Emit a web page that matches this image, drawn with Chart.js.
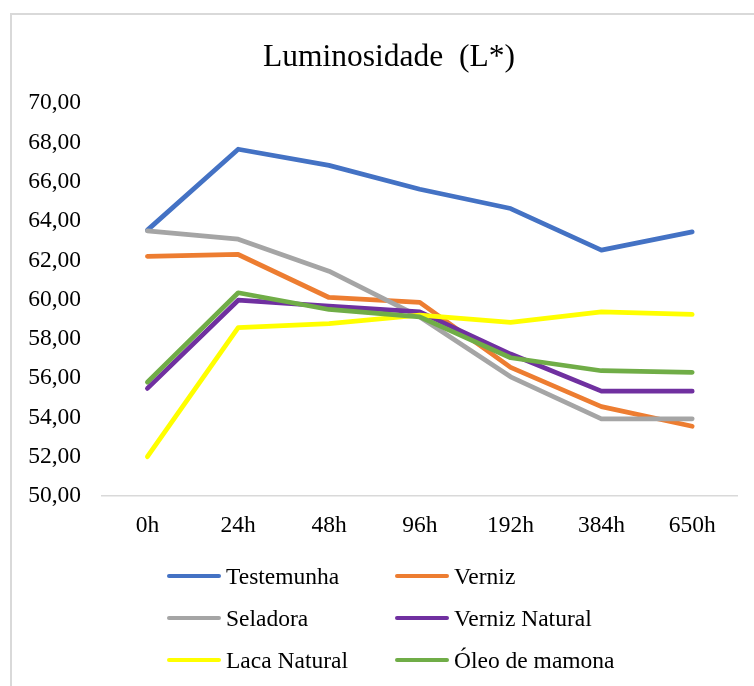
<!DOCTYPE html>
<html>
<head>
<meta charset="utf-8">
<script src="https://cdn.jsdelivr.net/npm/chart.js@4.4.1/dist/chart.umd.min.js"></script>
<style>
  html, body { margin: 0; padding: 0; background: #fff; width: 754px; height: 686px; overflow: hidden; }
  #frame { position: absolute; left: 10px; top: 13px; width: 800px; height: 720px; border: 2px solid #d9d9d9; box-sizing: border-box; }
  #wrap { position: absolute; left: 0; top: 0; width: 754px; height: 686px; }
  #legend { position: absolute; left: 0; top: 0; width: 754px; height: 686px; pointer-events: none;
            font-family: "Liberation Serif", "Times New Roman", serif; font-size: 23.5px; color: #000; }
  .li { position: absolute; height: 30px; display: flex; align-items: center; white-space: nowrap; }
  .sw { width: 54px; height: 4.75px; border-radius: 3px; margin-right: 5px; }
</style>
</head>
<body>
<div id="frame"></div>
<div id="wrap"><canvas id="c" width="754" height="686"></canvas></div>
<div id="legend"></div>
<script>
const categories = ['0h', '24h', '48h', '96h', '192h', '384h', '650h'];
const seriesNames = ['Testemunha', 'Verniz', 'Seladora', 'Verniz Natural', 'Laca Natural', 'Óleo de mamona'];
const testemunha    = [63.54, 67.66, 66.84, 65.62, 64.64, 62.52, 63.45];
const verniz        = [62.21, 62.30, 60.11, 59.86, 56.55, 54.55, 53.55];
const seladora      = [63.50, 63.08, 61.45, 59.12, 56.07, 53.93, 53.93];
const vernizNatural = [55.48, 59.97, 59.67, 59.38, 57.23, 55.34, 55.34];
const lacaNatural   = [52.00, 58.58, 58.78, 59.21, 58.84, 59.38, 59.25];
const oleoMamona    = [55.80, 60.35, 59.50, 59.12, 57.04, 56.38, 56.30];
const seriesColors  = ['#4472C4', '#ED7D31', '#A5A5A5', '#7030A0', '#FFFF00', '#70AD47'];
const yMin = 50, yMax = 70, yStep = 2;
const titleText = 'Luminosidade  (L*)';

const FONT = '"Liberation Serif", "Times New Roman", serif';
const allValues = [testemunha, verniz, seladora, vernizNatural, lacaNatural, oleoMamona];

const datasets = seriesNames.map((name, i) => ({
  label: name,
  data: allValues[i],
  borderColor: seriesColors[i],
  backgroundColor: seriesColors[i],
  borderWidth: 4.75,
  pointRadius: 0,
  pointHoverRadius: 0,
  tension: 0,
  fill: false,
  borderCapStyle: 'round',
  borderJoinStyle: 'round',
  order: seriesNames.length - i
}));

const chart = new Chart(document.getElementById('c'), {
  type: 'line',
  data: { labels: categories, datasets },
  options: {
    responsive: false,
    animation: false,
    events: [],
    layout: { padding: { left: 24, right: 0, top: 0, bottom: 140 } },
    plugins: {
      legend: { display: false },
      tooltip: { enabled: false },
      title: {
        display: true,
        text: titleText,
        color: '#000',
        font: { family: FONT, size: 31.5, weight: 'normal' },
        padding: { top: 39, bottom: 26.5 }
      }
    },
    scales: {
      x: {
        type: 'category',
        offset: true,
        grid: { display: false, drawTicks: false },
        border: { display: true, color: '#d9d9d9', width: 1.5 },
        ticks: { color: '#000', font: { family: FONT, size: 23.5 }, padding: 16, maxRotation: 0, autoSkip: false },
        afterFit: (s) => { s.height = 50; }
      },
      y: {
        min: yMin, max: yMax,
        grid: { display: false, drawTicks: false },
        border: { display: false },
        ticks: {
          stepSize: yStep,
          color: '#000',
          font: { family: FONT, size: 23.5 },
          padding: 21,
          callback: (v) => Number(v).toFixed(2).replace('.', ',')
        },
        afterFit: (s) => { s.width = 78; }
      },
      yRight: {
        position: 'right',
        display: true,
        min: yMin, max: yMax,
        grid: { display: false, drawTicks: false },
        border: { display: false },
        ticks: { display: false },
        afterFit: (s) => { s.width = 16.4; }
      }
    }
  }
});

// HTML legend built from the chart's datasets, in two columns
const legendEl = document.getElementById('legend');
const colX = [167, 395];
const rowY = [576, 618, 660];
chart.data.datasets.forEach((ds, i) => {
  const item = document.createElement('div');
  item.className = 'li';
  item.style.left = colX[i % 2] + 'px';
  item.style.top = (rowY[Math.floor(i / 2)] - 15) + 'px';
  const sw = document.createElement('span');
  sw.className = 'sw';
  sw.style.background = ds.borderColor;
  const tx = document.createElement('span');
  tx.textContent = ds.label;
  item.appendChild(sw);
  item.appendChild(tx);
  legendEl.appendChild(item);
});
</script>
</body>
</html>
